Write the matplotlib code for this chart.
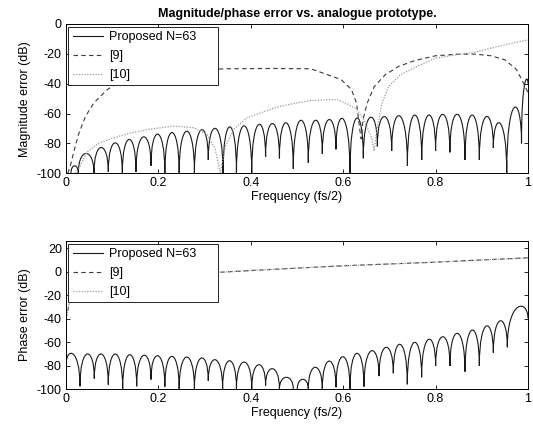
import matplotlib
matplotlib.use("Agg")
import matplotlib.pyplot as plt
from matplotlib.path import Path
from matplotlib.patches import PathPatch
from matplotlib.lines import Line2D

plt.rcParams['font.family'] = ['Liberation Sans', 'DejaVu Sans']
plt.rcParams['font.size'] = 9
plt.rcParams['axes.unicode_minus'] = False

# --- magnitude error, proposed design: notch positions/depths and lobe peak levels
mag_notch_f = [0.0108, 0.0267, 0.0606, 0.0916, 0.122, 0.1515, 0.184, 0.214, 0.245, 0.278,
               0.308, 0.340, 0.369, 0.402, 0.432, 0.462, 0.492, 0.5245, 0.5548, 0.5844,
               0.6147, 0.6436, 0.674, 0.705, 0.739, 0.770, 0.800, 0.831, 0.8636, 0.8947,
               0.925, 0.954, 0.986, 1.0]
mag_notch_db = [-100, -100, -100, -99, -100, -99, -95, -100, -100, -100,
                -91, -100, -100, -100, -89, -90, -97, -93, -87, -84,
                -100, -90, -82, -85, -95, -91, -85, -86, -91, -91,
                -83, -100, -80, -40]
mag_peak_db = [-95, -86.7, -82.7, -79.6, -77.3, -75.6, -73.8, -72.7, -71.8, -70.9,
               -70, -68.9, -68.2, -67.3, -66.7, -66.2, -64.5, -64.5, -64, -63.5,
               -63, -62.5, -62, -61.5, -61, -61, -60.5, -60.5, -61, -62,
               -66.5, -56, -40]

# --- magnitude error, reference [9]
mag9_f = [0.004, 0.0094, 0.0166, 0.027, 0.042, 0.06, 0.089, 0.125, 0.168, 0.25, 0.35,
          0.45, 0.53, 0.56, 0.596, 0.618, 0.629, 0.636, 0.639, 0.643, 0.652, 0.667,
          0.691, 0.72, 0.756, 0.80, 0.85, 0.886, 0.92, 0.95, 0.975, 0.99, 1.0]
mag9_db = [-100, -95, -86, -74, -62, -53, -44, -37, -33, -31, -30,
           -29.8, -30, -33.3, -37.3, -44, -53, -71, -77, -64, -53, -42,
           -34, -28.4, -24.4, -21.3, -20.2, -20.2, -21.3, -24, -30.4, -39.5, -46]

# --- magnitude error, reference [10]
mag10_f = [0.02, 0.03, 0.045, 0.07, 0.1, 0.14, 0.18, 0.233, 0.277, 0.305, 0.323, 0.331,
           0.334, 0.345, 0.363, 0.392, 0.421, 0.457, 0.493, 0.529, 0.565, 0.587, 0.608,
           0.63, 0.648, 0.662, 0.667, 0.673, 0.684, 0.698, 0.724, 0.76, 0.80, 0.85,
           0.886, 0.92, 0.965, 1.0]
mag10_db = [-100, -95.6, -86, -80, -76.5, -73, -70.5, -68.4, -69.5, -74, -84, -95,
            -100, -82, -70.6, -62.8, -59.6, -55.6, -53.3, -51.3, -50.7, -50.7, -53.3,
            -57.3, -66, -77, -85, -70.7, -53.3, -42, -34, -28.4, -22.9, -20.4,
            -18.9, -16.2, -12.9, -10.7]

# --- phase error, proposed design
ph_notch_f = [0.0, 0.0303, 0.0613, 0.0916, 0.1227, 0.153, 0.184, 0.214, 0.245, 0.278,
              0.308, 0.339, 0.369, 0.402, 0.432, 0.462, 0.492, 0.5007, 0.5245, 0.5548,
              0.5844, 0.6147, 0.645, 0.6775, 0.7085, 0.7388, 0.7698, 0.8001, 0.8312,
              0.8636, 0.8947, 0.925, 0.9553, 1.0]
ph_notch_db = [-80, -97.7, -91.2, -96.3, -100, -97.7, -92, -98, -100, -100,
               -93, -100, -100, -100, -97, -100, -100, -100, -100, -100,
               -98.5, -100, -98, -89, -86.6, -96, -90, -80.4, -80.4,
               -85.3, -80.4, -69.1, -64.5, -40]
ph_peak_db = [-70.2, -70.2, -70.2, -70.2, -70.8, -71.3, -71.7, -72.2, -72.8, -73.6,
              -75.1, -75.9, -77.0, -79.3, -82.7, -90, -104, -91.7, -81.5, -76.2,
              -72.5, -69.6, -67.4, -64.5, -62, -60.3, -57.7, -55.5, -52.6, -49.8,
              -46.4, -41.9, -30.5]

# --- phase error, references [9] and [10] (overlap)
ph_ref_f = [0.0, 0.004, 0.008, 0.012, 0.02, 0.05, 0.1, 0.2, 0.334, 0.42, 0.6, 0.8, 1.0]
ph_ref_db = [-40, -33, -25, -15, -6, -3, -2, -1, -0.6, 1.3, 4.9, 8.0, 11.7]

freq_ticks = [0, 0.2, 0.4, 0.6, 0.8, 1]
freq_labels = ['0', '0.2', '0.4', '0.6', '0.8', '1']
legend_labels = ['Proposed N=63', '[9]', '[10]']

c_prop, c9, c10 = '#1a1a1a', '#3a3a3a', '#9a9a9a'
st9 = dict(color=c9, lw=0.8, linestyle=(0, (4, 3)))
st10 = dict(color=c10, lw=0.9, linestyle=(0, (1, 1.2)))


def lobes(notch_f, notch_db, peak_db):
    # each lobe: cubic curve notch -> notch, vertical at the notches, top at peak level
    verts = [(notch_f[0], notch_db[0])]
    codes = [Path.MOVETO]
    for i, pk in enumerate(peak_db):
        x0, y0 = notch_f[i], notch_db[i]
        x1, y1 = notch_f[i + 1], notch_db[i + 1]
        c = (8 * pk - y0 - y1) / 6
        verts += [(x0, c), (x1, c), (x1, y1)]
        codes += [Path.CURVE4] * 3
    return PathPatch(Path(verts, codes), facecolor='none', edgecolor=c_prop, lw=0.8)


def style(ax, ylim, yticks, ylabel):
    ax.set_xlim(0, 1)
    ax.set_ylim(*ylim)
    ax.set_xticks(freq_ticks)
    ax.set_xticklabels(freq_labels)
    ax.set_yticks(yticks)
    ax.tick_params(direction='in', top=True, right=True, length=3, width=0.6, labelsize=9, pad=3)
    for s in ax.spines.values():
        s.set_linewidth(0.7)
    ax.set_xlabel('Frequency (fs/2)', fontsize=9, labelpad=1)
    ax.set_ylabel(ylabel, fontsize=9, labelpad=4)
    handles = [Line2D([], [], color=c_prop, lw=0.8), Line2D([], [], **st9), Line2D([], [], **st10)]
    leg = ax.legend(handles, legend_labels, loc='upper left', mode='expand',
                    bbox_to_anchor=(0.005, 0.55, 0.325, 0.43), borderaxespad=0,
                    fancybox=False, framealpha=1, edgecolor='#222222', fontsize=9,
                    handlelength=2.4, handletextpad=0.5, labelspacing=0.55, borderpad=0.35)
    leg.get_frame().set_linewidth(0.7)


fig = plt.figure(figsize=(5.33, 4.33), dpi=100)
ax1 = fig.add_axes([0.1238, 0.5998, 0.8668, 0.3448])
ax2 = fig.add_axes([0.1238, 0.1016, 0.8668, 0.3418])

ax1.add_patch(lobes(mag_notch_f, mag_notch_db, mag_peak_db))
ax1.plot(mag9_f, mag9_db, **st9)
ax1.plot(mag10_f, mag10_db, **st10)
style(ax1, (-100, 0), [-100, -80, -60, -40, -20, 0], 'Magnitude error (dB)')
ax1.set_title('Magnitude/phase error vs. analogue prototype.', fontsize=9,
              fontweight='bold', pad=5)

ax2.add_patch(lobes(ph_notch_f, ph_notch_db, ph_peak_db))
ax2.plot(ph_ref_f, ph_ref_db, **st9)
ax2.plot(ph_ref_f, ph_ref_db, **st10)
style(ax2, (-100, 26), [-100, -80, -60, -40, -20, 0, 20], 'Phase error (dB)')

fig.savefig('out.png', dpi=100)
